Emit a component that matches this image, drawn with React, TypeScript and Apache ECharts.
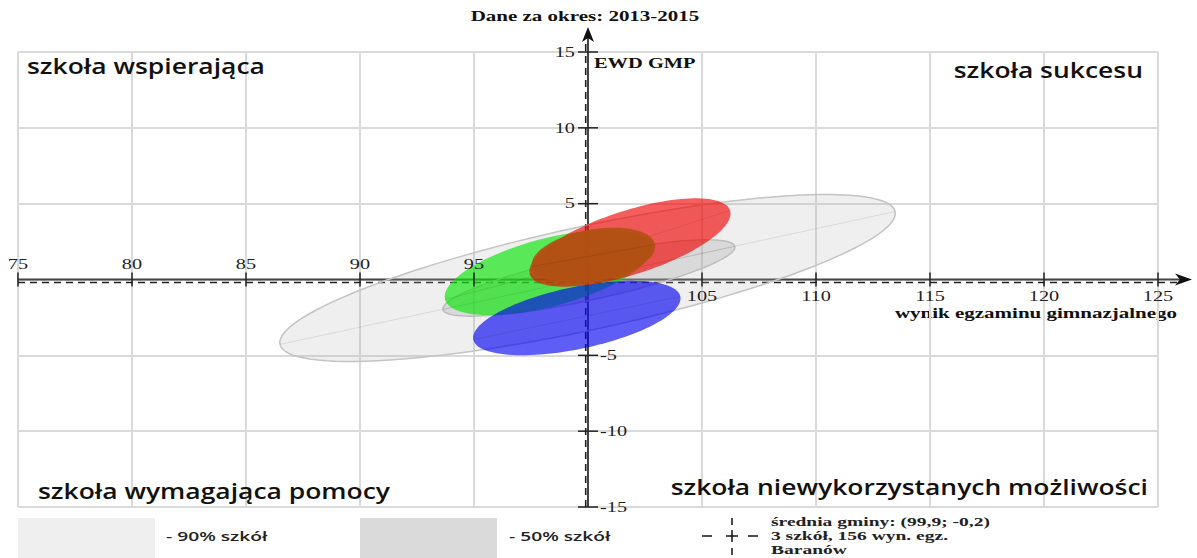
import React, { useEffect, useRef } from "react";
import * as echarts from "echarts";

// ---- data ----
const X_MIN = 75;
const X_MAX = 125;
const X_STEP = 5;
const Y_MIN = -15;
const Y_MAX = 15;
const Y_STEP = 5;
const X_CROSS = 100; // vertical axis position (x value)
const xTickValues = [75, 80, 85, 90, 95, 105, 110, 115, 120, 125];
const yTickValues = [15, 10, 5, -5, -10, -15];

// ellipses: center, major half-vector, minor half-vector (data units)
const ellipseNames = ["90% szkół", "50% szkół", "szkoła 1", "szkoła 2", "szkoła 3", "gmina"];
const ellipseCenterX = [99.98, 100.04, 98.25, 99.51, 101.84, 100.24];
const ellipseCenterY = [0.1, 0.1, 0.46, -2.54, 2.44, 1.58];
const ellipseMajorX = [13.49, 6.4, 4.52, 4.54, 4.39, 2.7];
const ellipseMajorY = [4.38, 2.08, 1.78, 1.42, 2.11, 0.725];
const ellipseMinorX = [0.479, 0.204, 0.377, 0.276, 0.428, 0.2];
const ellipseMinorY = [-3.33, -1.42, -2.17, -2.0, -2.01, -1.69];

const meanPoint = [99.9, -0.2];

const titleText = "Dane za okres: 2013-2015";
const yAxisName = "EWD GMP";
const xAxisName = "wynik egzaminu gimnazjalnego";
const quadrantLabels = [
  "szkoła wspierająca",
  "szkoła sukcesu",
  "szkoła wymagająca pomocy",
  "szkoła niewykorzystanych możliwości",
];
const legendTexts = ["- 90% szkół", "- 50% szkół"];
const meanTexts = ["średnia gminy: (99,9; -0,2)", "3 szkół, 156 wyn. egz.", "Baranów"];

// ---- styles ----
const ellipseFills = [
  "rgba(175,175,175,0.2)",
  "rgba(160,160,160,0.28)",
  "rgba(0,228,0,0.63)",
  "rgba(0,0,240,0.63)",
  "rgba(240,0,0,0.63)",
  "rgba(178,80,20,0.92)",
];
const ellipseStrokes = ["#c4c4c4", "#bdbdbd", "none", "none", "none", "none"];

const SERIF = "'Liberation Serif', 'DejaVu Serif', serif";
const SANS = "'Open Sans', 'Noto Sans', sans-serif";
const SERIF_STRETCH = 1.45;
const SANS_STRETCH = 1.26;

export default function App() {
  const ref = useRef<HTMLDivElement>(null);
  useEffect(() => {
    if (!ref.current) return;
    const chart = echarts.init(ref.current, undefined, { renderer: "svg" });

    const ellipseData = ellipseNames.map((n, i) => [
      ellipseCenterX[i],
      ellipseCenterY[i],
      ellipseMajorX[i],
      ellipseMajorY[i],
      ellipseMinorX[i],
      ellipseMinorY[i],
      i,
    ]);

    const quad = (text: string, x: number, y: number, align: string) => ({
      type: "text",
      x,
      y,
      z: 10,
      scaleX: SANS_STRETCH,
      style: { text, font: `600 21px ${SANS}`, fill: "#111", textAlign: align, textVerticalAlign: "middle" },
    });

    const option: any = {
      animation: false,
      grid: { left: 18, top: 52, width: 1140, height: 455, containLabel: false },
      xAxis: {
        type: "value",
        min: X_MIN,
        max: X_MAX,
        interval: X_STEP,
        axisLine: { show: false },
        axisTick: { show: false },
        axisLabel: { show: false },
        splitLine: { show: true, lineStyle: { color: "#dadada", width: 2 } },
      },
      yAxis: {
        type: "value",
        min: Y_MIN,
        max: Y_MAX,
        interval: Y_STEP,
        axisLine: { show: false },
        axisTick: { show: false },
        axisLabel: { show: false },
        splitLine: { show: true, lineStyle: { color: "#dadada", width: 2 } },
      },
      graphic: [
        {
          type: "text",
          x: 585,
          y: 16,
          scaleX: 1.5,
          style: {
            text: titleText,
            font: `bold 14px ${SERIF}`,
            fill: "#111",
            textAlign: "center",
            textVerticalAlign: "middle",
          },
        },
        {
          type: "text",
          x: 594,
          y: 63,
          scaleX: 1.46,
          style: { text: yAxisName, font: `bold 14px ${SERIF}`, fill: "#111", textVerticalAlign: "middle" },
        },
        {
          type: "text",
          x: 1177,
          y: 313,
          scaleX: 1.5,
          style: {
            text: xAxisName,
            font: `bold 14px ${SERIF}`,
            fill: "#111",
            textAlign: "right",
            textVerticalAlign: "middle",
          },
        },
        quad(quadrantLabels[0], 27, 66, "left"),
        quad(quadrantLabels[1], 1143, 70, "right"),
        quad(quadrantLabels[2], 38, 491, "left"),
        quad(quadrantLabels[3], 1148, 487, "right"),
        { type: "rect", shape: { x: 18, y: 518, width: 137, height: 40 }, style: { fill: "#efefef" } },
        {
          type: "text",
          x: 166,
          y: 536,
          scaleX: 1.48,
          style: { text: legendTexts[0], font: `600 13px ${SANS}`, fill: "#222", textVerticalAlign: "middle" },
        },
        { type: "rect", shape: { x: 360, y: 518, width: 137, height: 40 }, style: { fill: "#dadada" } },
        {
          type: "text",
          x: 509,
          y: 536,
          scaleX: 1.48,
          style: { text: legendTexts[1], font: `600 13px ${SANS}`, fill: "#222", textVerticalAlign: "middle" },
        },
        { type: "line", shape: { x1: 732, y1: 518, x2: 732, y2: 525 }, style: { stroke: "#111", lineWidth: 1.5 } },
        { type: "line", shape: { x1: 732, y1: 548, x2: 732, y2: 555 }, style: { stroke: "#111", lineWidth: 1.5 } },
        { type: "line", shape: { x1: 732, y1: 530, x2: 732, y2: 542 }, style: { stroke: "#111", lineWidth: 1.5 } },
        { type: "line", shape: { x1: 726, y1: 536, x2: 738, y2: 536 }, style: { stroke: "#111", lineWidth: 1.5 } },
        { type: "line", shape: { x1: 702, y1: 536, x2: 712, y2: 536 }, style: { stroke: "#111", lineWidth: 1.5 } },
        { type: "line", shape: { x1: 748, y1: 536, x2: 758, y2: 536 }, style: { stroke: "#111", lineWidth: 1.5 } },
        ...meanTexts.map((t, i) => ({
          type: "text",
          x: 771,
          y: 522 + i * 14,
          scaleX: 1.5,
          style: { text: t, font: `bold 13px ${SERIF}`, fill: "#222", textVerticalAlign: "middle" },
        })),
      ],
      series: [
        // axes (under the ellipses)
        {
          type: "custom",
          z: 2,
          clip: false,
          silent: true,
          data: [[X_CROSS, 0]],
          renderItem: (params: any, api: any) => {
            const cs = params.coordSys;
            const o = api.coord([X_CROSS, 0]);
            const xl = api.coord([X_MIN, 0]);
            const yb = api.coord([X_CROSS, Y_MIN]);
            const xEnd = cs.x + cs.width + 34;
            const yEnd = cs.y - 25;
            const m = api.coord(meanPoint);
            return {
              type: "group",
              children: [
                { type: "line", shape: { x1: xl[0], y1: o[1], x2: xEnd - 6, y2: o[1] }, style: { stroke: "#444", lineWidth: 2 } },
                {
                  type: "polygon",
                  shape: { points: [[xEnd, o[1]], [xEnd - 17, o[1] - 6], [xEnd - 12, o[1]], [xEnd - 17, o[1] + 6]] },
                  style: { fill: "#111" },
                },
                { type: "line", shape: { x1: o[0], y1: yb[1], x2: o[0], y2: yEnd + 6 }, style: { stroke: "#444", lineWidth: 2 } },
                {
                  type: "polygon",
                  shape: { points: [[o[0], yEnd], [o[0] - 6, yEnd + 15], [o[0], yEnd + 11], [o[0] + 6, yEnd + 15]] },
                  style: { fill: "#111" },
                },
                {
                  type: "line",
                  shape: { x1: xl[0], y1: m[1], x2: xEnd - 10, y2: m[1] },
                  style: { stroke: "#222", lineWidth: 1.6, lineDash: [7, 5] },
                },
                {
                  type: "line",
                  shape: { x1: m[0], y1: yb[1], x2: m[0], y2: yEnd + 14 },
                  style: { stroke: "#222", lineWidth: 1.6, lineDash: [7, 5] },
                },
              ],
            };
          },
        },
        // ellipses
        {
          type: "custom",
          z: 3,
          clip: false,
          silent: true,
          data: ellipseData,
          renderItem: (params: any, api: any) => {
            const cx = api.value(0);
            const cy = api.value(1);
            const ux = api.value(2);
            const uy = api.value(3);
            const vx = api.value(4);
            const vy = api.value(5);
            const idx = api.value(6);
            const pts: number[][] = [];
            const N = 120;
            for (let k = 0; k < N; k++) {
              const t = (2 * Math.PI * k) / N;
              const c = Math.cos(t);
              const s = Math.sin(t);
              pts.push(api.coord([cx + ux * c + vx * s, cy + uy * c + vy * s]));
            }
            const a = api.coord([cx - ux, cy - uy]);
            const b = api.coord([cx + ux, cy + uy]);
            const stroke = ellipseStrokes[idx];
            return {
              type: "group",
              children: [
                {
                  type: "polygon",
                  shape: { points: pts },
                  style: {
                    fill: ellipseFills[idx],
                    stroke: stroke === "none" ? null : stroke,
                    lineWidth: 1.5,
                  },
                },
                {
                  type: "line",
                  shape: { x1: a[0], y1: a[1], x2: b[0], y2: b[1] },
                  style: { stroke: "rgba(0,0,0,0.09)", lineWidth: 1 },
                },
              ],
            };
          },
        },
        // x ticks + labels
        {
          type: "custom",
          z: 5,
          clip: false,
          silent: true,
          data: xTickValues.map((v) => [v, 0]),
          renderItem: (params: any, api: any) => {
            const v = api.value(0);
            const p = api.coord([v, 0]);
            const below = v > X_CROSS;
            return {
              type: "group",
              children: [
                { type: "line", shape: { x1: p[0], y1: p[1] - 7, x2: p[0], y2: p[1] + 7 }, style: { stroke: "#222", lineWidth: 1.5 } },
                {
                  type: "text",
                  x: p[0],
                  y: below ? p[1] + 17 : p[1] - 15,
                  scaleX: SERIF_STRETCH,
                  style: {
                    text: String(v),
                    font: `14px ${SERIF}`,
                    fill: "#222",
                    textAlign: "center",
                    textVerticalAlign: "middle",
                  },
                },
              ],
            };
          },
        },
        // y ticks + labels
        {
          type: "custom",
          z: 5,
          clip: false,
          silent: true,
          data: yTickValues.map((v) => [X_CROSS, v]),
          renderItem: (params: any, api: any) => {
            const v = api.value(1);
            const p = api.coord([X_CROSS, v]);
            const pos = v > 0;
            return {
              type: "group",
              children: [
                { type: "line", shape: { x1: p[0] - 10, y1: p[1], x2: p[0] + 10, y2: p[1] }, style: { stroke: "#222", lineWidth: 1.5 } },
                {
                  type: "text",
                  x: pos ? p[0] - 13 : p[0] + 12,
                  y: p[1],
                  scaleX: SERIF_STRETCH,
                  style: {
                    text: String(v),
                    font: `14px ${SERIF}`,
                    fill: "#222",
                    textAlign: pos ? "right" : "left",
                    textVerticalAlign: "middle",
                  },
                },
              ],
            };
          },
        },
      ],
    };
    chart.setOption(option);
    return () => chart.dispose();
  }, []);
  return (
    <div
      ref={ref}
      style={{ position: "absolute", left: 0, top: 0, width: 1197, height: 558, background: "#fff" }}
    />
  );
}
